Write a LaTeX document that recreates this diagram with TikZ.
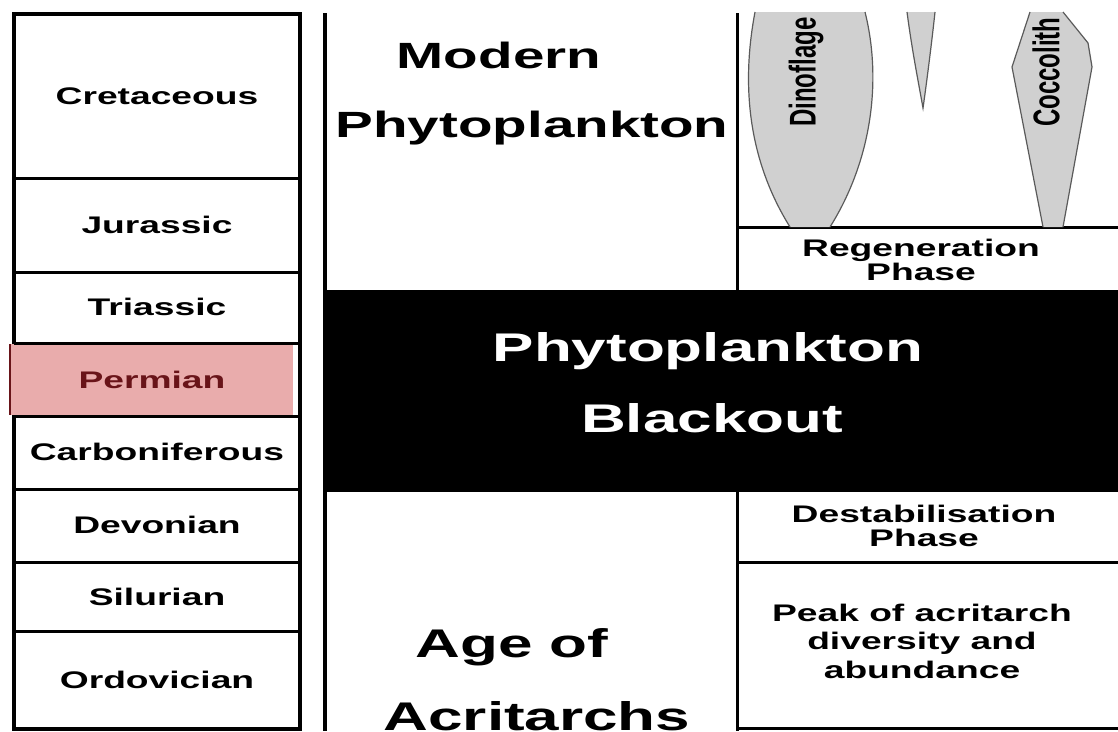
\documentclass[tikz,border=0pt]{standalone}
\usepackage{fontspec}
\setmainfont[FakeStretch=1.55]{Liberation Sans}
\newfontfamily\narrowsans{Liberation Sans}
\usepackage{tikz}
\definecolor{permpink}{RGB}{233,172,172}
\definecolor{permred}{RGB}{105,20,25}
\definecolor{spindlegrey}{RGB}{208,208,208}
\definecolor{spindleedge}{RGB}{90,90,90}

\begin{document}
\begin{tikzpicture}[x=1pt,y=-1pt,
  frame/.style={line width=3.6pt},
  rule/.style={line width=3pt},
  period/.style={font=\bfseries\fontsize{24}{24}\selectfont,inner sep=0pt},
  phase/.style={font=\bfseries\fontsize{24}{24}\selectfont,align=center,inner sep=0pt},
  bigtext/.style={font=\bfseries\fontsize{36.5}{36.5}\selectfont,anchor=base,inner sep=0pt},
  hugetext/.style={font=\bfseries\fontsize{40}{40}\selectfont,anchor=base,inner sep=0pt},
  spindletext/.style={font=\narrowsans\bfseries\fontsize{24}{24}\selectfont,rotate=90,anchor=west,inner sep=0pt}]
\useasboundingbox (0,0) rectangle (1118,731);
% geological periods
\draw[frame] (14,14) rectangle (300,729);
\fill[permpink] (10,344) rectangle (293,415);
\draw[permred,line width=1.5pt] (10,344) -- (10,415);
\foreach \y in {178,272,343,416,489,562,631}
  \draw[rule] (14,\y) -- (300,\y);
\foreach \p/\yc in {Cretaceous/96,Jurassic/225,Triassic/307,Carboniferous/452,Devonian/525,Silurian/597,Ordovician/680}
  \node[period] (\p) at (157,\yc) {\p};
\node[period,text=permred] (Permian) at (152,380) {Permian};
% columns
\draw[frame] (325,13) -- (325,731);
\draw[rule] (737,13) -- (737,290);
\draw[rule] (737,492) -- (737,731);
\draw[rule] (737,227) -- (1118,227);
\draw[rule] (737,562) -- (1118,562);
\draw[rule] (737,728) -- (1118,728);
\fill (325,290) rectangle (1118,492);
% spindles
\fill[spindlegrey] (755,12) .. controls (744,70) and (742,150) .. (790,227) -- (830,227)
  .. controls (872,160) and (882,80) .. (865,12) -- cycle;
\draw[spindleedge,line width=1.2pt] (755,12) .. controls (744,70) and (742,150) .. (790,227)
  (830,227) .. controls (872,160) and (882,80) .. (865,12);
\filldraw[fill=spindlegrey,draw=spindleedge,line width=1.2pt] (907,12) .. controls (912,50) and (918,80) .. (923,108)
  .. controls (927,80) and (932,40) .. (935,12);
\fill[spindlegrey] (1030,12) -- (1012,67) -- (1043,227) -- (1063,227) -- (1092,67) -- (1088,43) -- (1063,12) -- cycle;
\draw[spindleedge,line width=1.2pt] (1030,12) -- (1012,67) -- (1043,227)
  (1063,227) -- (1092,67) -- (1088,43) -- (1063,12);
\node[spindletext] (dino) at (806,127) {\scalebox{1}[1.55]{Dinoflage}};
\node[spindletext] (cocco) at (1046,127) {\scalebox{1}[1.55]{Coccolith}};
% labels
\node[bigtext] (modern) at (499,68) {Modern};
\node[bigtext] (modphyto) at (532,137) {Phytoplankton};
\node[hugetext,text=white] (blackphyto) at (708,361) {Phytoplankton};
\node[hugetext,text=white] (blackout) at (712,432) {Blackout};
\node[hugetext] (ageof) at (512,657) {Age of};
\node[hugetext] (acritarchs) at (537,730) {Acritarchs};
\node[phase] (regen) at (921,260) {Regeneration\\Phase};
\node[phase] (destab) at (924,526) {Destabilisation\\Phase};
\node[phase,font=\bfseries\fontsize{24}{28.5}\selectfont] (peak) at (922,641) {Peak of acritarch\\diversity and\\abundance};
\end{tikzpicture}
\end{document}
